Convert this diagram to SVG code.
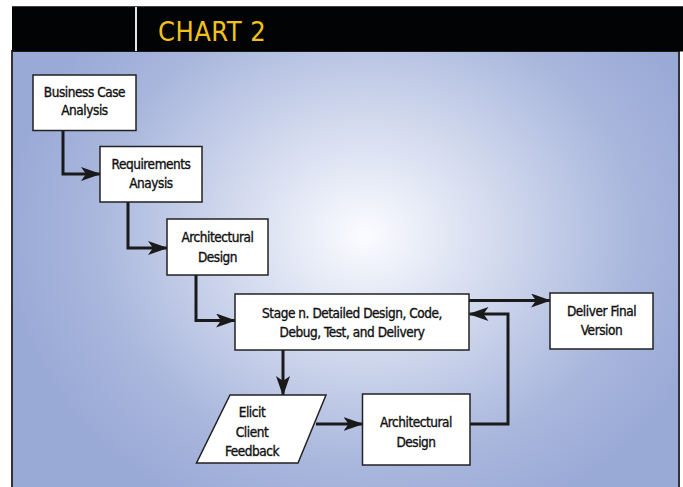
<svg xmlns="http://www.w3.org/2000/svg" width="683" height="487" viewBox="0 0 683 487">
<defs>
<radialGradient id="bg" gradientUnits="userSpaceOnUse" cx="365" cy="235" r="360" gradientTransform="translate(365 235) scale(1 0.85) translate(-365 -235)">
<stop offset="0" stop-color="#fbfcff"/>
<stop offset="0.35" stop-color="#d5dcef"/>
<stop offset="0.75" stop-color="#a9b7dd"/>
<stop offset="1" stop-color="#9aaad6"/>
</radialGradient>
<marker id="arr" markerWidth="20" markerHeight="14" viewBox="0 0 20 14" refX="19" refY="7" orient="auto" markerUnits="userSpaceOnUse">
<path d="M0,0 L20,7 L0,14 L5,7 Z" fill="#1a1a1a"/>
</marker>
<style>
.box{fill:#fff;stroke:#222;stroke-width:1.5}
.t{font-family:"DejaVu Sans Condensed","DejaVu Sans",sans-serif;font-size:13.5px;fill:#111;stroke:#111;stroke-width:0.35px;text-anchor:middle;letter-spacing:-0.45px}
.c{fill:none;stroke:#1a1a1a;stroke-width:3;marker-end:url(#arr)}
</style>
</defs>
<rect x="0" y="0" width="683" height="487" fill="#fff"/>
<rect x="12" y="51" width="667" height="440" fill="url(#bg)" stroke="#333" stroke-width="2"/>
<rect x="12" y="6" width="671" height="45.5" fill="#020305"/>
<line x1="12" y1="6.5" x2="683" y2="6.5" stroke="#444" stroke-width="1"/>
<line x1="136" y1="7" x2="136" y2="51" stroke="#fff" stroke-width="1.8"/>
<text x="158" y="41" font-family="DejaVu Sans Condensed, DejaVu Sans, sans-serif" font-size="27" fill="#f2c21a" letter-spacing="0.5">CHART 2</text>

<g id="connectors">
<path class="c" d="M63,130 V174 H100"/>
<path class="c" d="M128,202 V248 H167"/>
<path class="c" d="M196,275 V320.5 H235"/>
<path class="c" d="M283,350 V395"/>
<path class="c" d="M316,424 H362.5"/>
<path class="c" d="M470,424 H508 V314 H469.5"/>
<path class="c" d="M469,300.5 H550"/>
</g>

<g id="business-case">
<rect class="box" x="33" y="75" width="103" height="55.5"/>
<text class="t" x="84.5" y="97">Business Case</text>
<text class="t" x="84.5" y="115">Analysis</text>
</g>
<g id="requirements">
<rect class="box" x="100" y="146.5" width="102" height="55.5"/>
<text class="t" x="151" y="169">Requirements</text>
<text class="t" x="151" y="188">Anaysis</text>
</g>
<g id="architectural-1">
<rect class="box" x="167" y="219" width="101" height="56"/>
<text class="t" x="217.5" y="242">Architectural</text>
<text class="t" x="217.5" y="262">Design</text>
</g>
<g id="stage-n">
<rect class="box" x="235" y="294" width="234" height="56"/>
<text class="t" x="352" y="318">Stage n. Detailed Design, Code,</text>
<text class="t" x="352" y="337">Debug, Test, and Delivery</text>
</g>
<g id="deliver">
<rect class="box" x="550" y="293" width="103" height="56"/>
<text class="t" x="601.5" y="316">Deliver Final</text>
<text class="t" x="601.5" y="335">Version</text>
</g>
<g id="elicit">
<polygon class="box" points="230,395 326,395 298,463 196.5,463"/>
<text class="t" x="252" y="417">Elicit</text>
<text class="t" x="252" y="437">Client</text>
<text class="t" x="252" y="456">Feedback</text>
</g>
<g id="architectural-2">
<rect class="box" x="362.5" y="394" width="107.5" height="71"/>
<text class="t" x="416" y="427">Architectural</text>
<text class="t" x="416" y="447">Design</text>
</g>
</svg>
